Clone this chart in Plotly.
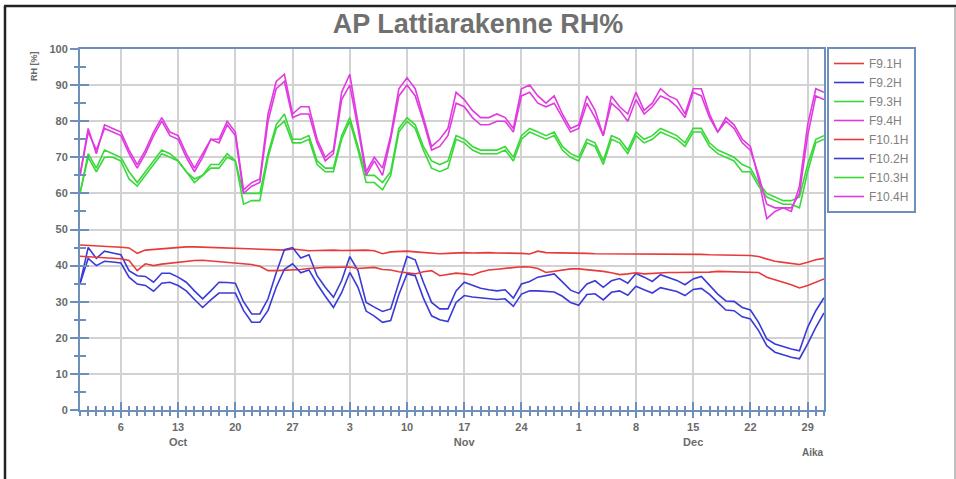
import pandas as pd
import plotly.graph_objects as go

# ---------------- data ----------------
dates = pd.date_range("2014-10-01", "2014-12-31", freq="D")

f9_1 = [45.7, 45.6, 45.5, 45.5, 45.3, 45.1, 44.9, 43.4, 44.3, 44.5,
        44.7, 44.9, 45.1, 45.2, 45.2, 45.1, 45.1, 45.0, 45.0, 44.9,
        44.8, 44.7, 44.6, 44.5, 44.3, 44.3, 44.6, 44.4, 44.1, 44.2,
        44.3, 44.3, 44.2, 44.3, 44.4, 44.3, 44.1, 43.3, 43.8, 44.0,
        44.0, 43.8, 43.6, 43.5, 43.3, 43.4, 43.6, 43.6, 43.5, 43.6,
        43.6, 43.5, 43.5, 43.4, 43.4, 43.2, 44.0, 43.6, 43.6, 43.5,
        43.5, 43.4, 43.4, 43.3, 43.3, 43.2, 43.1, 43.1, 43.2, 43.1,
        43.1, 43.2, 43.2, 43.2, 43.2, 43.1, 43.1, 43.0, 43.0, 43.0,
        42.9, 42.9, 42.8, 42.5, 41.8, 41.2, 40.9, 40.6, 40.3, 40.9,
        41.6, 42.0]

f9_2 = [35.0, 45.0, 42.0, 44.0, 43.5, 43.0, 38.6, 37.2, 37.0, 35.4,
        37.9, 37.9, 36.8, 35.4, 33.0, 30.8, 33.0, 35.4, 35.3, 35.1,
        30.0, 26.6, 26.6, 30.8, 38.0, 44.4, 45.0, 42.1, 43.0, 37.2,
        34.0, 31.2, 35.8, 42.5, 38.6, 29.8, 28.5, 27.3, 28.0, 35.0,
        42.5, 41.6, 35.4, 29.8, 28.0, 28.0, 33.0, 35.4, 34.5, 33.7,
        33.3, 33.0, 33.3, 31.0, 34.9, 35.6, 36.8, 37.2, 37.7, 35.5,
        33.2, 32.3, 34.9, 35.8, 34.0, 35.8, 36.4, 35.1, 37.8, 36.8,
        35.6, 37.5, 36.8, 35.9, 34.7, 36.3, 37.0, 34.4, 32.1, 30.2,
        30.1, 28.4, 27.7, 24.3, 19.7, 18.3, 17.5, 16.9, 16.4, 22.9,
        27.5, 31.1]

f9_3 = [60, 71, 67, 72, 71, 70, 66, 63, 66, 69,
        72, 71, 69, 66, 64, 65, 68, 68, 71, 69,
        60, 60, 60, 71, 79, 82, 75, 75, 76, 69,
        67, 67, 76, 81, 73, 65, 65, 63, 66, 78,
        81, 79, 73, 69, 68, 69, 76, 75, 73, 72,
        72, 72, 73, 70, 76, 78, 77, 76, 77, 73,
        71, 70, 75, 74, 69, 76, 75, 72, 77, 75,
        76, 78, 77, 76, 74, 78, 78, 74, 72, 71,
        70, 68, 67, 63, 60, 59, 58, 58, 59, 68,
        75, 76]

f9_4 = [65, 78, 71, 79, 78, 77, 72, 68, 72, 77,
        81, 77, 76, 71, 67, 71, 75, 75, 80, 77,
        61, 63, 64, 82, 91, 93, 82, 84, 84, 75,
        70, 72, 88, 93, 80, 66, 70, 67, 76, 89,
        92, 89, 81, 73, 75, 78, 88, 86, 83, 81,
        81, 82, 81, 78, 89, 90, 87, 85, 87, 82,
        78, 79, 87, 83, 76, 87, 84, 82, 88, 83,
        85, 89, 87, 86, 82, 89, 89, 82, 77, 81,
        79, 75, 73, 64, 53, 55, 56, 55, 62, 79,
        89, 88]

f10_1 = [42.6, 42.5, 42.4, 42.3, 42.2, 41.9, 41.4, 38.6, 40.5, 40.0,
         40.4, 40.7, 41.0, 41.2, 41.4, 41.5, 41.3, 41.0, 40.8, 40.7,
         40.5, 40.3, 39.8, 38.6, 38.6, 38.7, 38.6, 38.9, 39.2, 39.4,
         39.5, 39.5, 39.5, 39.6, 39.2, 39.3, 39.5, 38.9, 38.8, 38.3,
         38.1, 37.7, 38.3, 38.6, 37.2, 37.6, 37.9, 37.7, 37.4, 38.2,
         38.8, 39.0, 39.2, 39.4, 39.7, 39.6, 39.2, 38.1, 38.4, 38.8,
         39.1, 39.1, 38.9, 38.6, 38.4, 38.0, 37.5, 37.7, 38.0, 37.7,
         37.9, 38.0, 38.1, 38.1, 38.1, 38.2, 38.1, 38.2, 38.4, 38.3,
         38.2, 38.2, 38.2, 38.1, 36.8, 36.0, 35.4, 34.7, 33.8, 34.5,
         35.5, 36.3]

f10_2 = [35.0, 42.0, 40.0, 41.2, 41.0, 40.7, 36.8, 34.9, 34.5, 32.9,
         35.1, 35.4, 34.5, 33.0, 30.6, 28.4, 30.5, 32.4, 32.4, 32.4,
         27.6, 24.3, 24.3, 27.6, 34.0, 39.0, 40.5, 38.0, 38.8, 34.9,
         31.5, 28.4, 32.5, 38.1, 34.0, 27.4, 26.0, 24.3, 24.8, 32.0,
         37.7, 37.2, 31.0, 26.1, 25.0, 24.5, 29.8, 31.7, 31.3, 31.0,
         30.8, 30.6, 30.8, 28.7, 32.1, 33.0, 33.0, 32.8, 32.7, 31.5,
         29.8, 29.0, 32.0, 32.2, 30.5, 32.6, 33.0, 31.8, 34.3, 33.3,
         32.4, 33.9, 33.4, 32.8, 31.7, 33.4, 33.7, 32.0, 29.8, 27.7,
         27.5, 25.8, 25.2, 22.0, 17.8, 16.0, 15.3, 14.6, 14.2, 18.3,
         22.9, 26.9]

f10_3 = [60, 70, 66, 70, 70, 69, 64, 62, 65, 68,
         71, 70, 69, 66, 63, 65, 67, 67, 70, 69,
         57, 58, 58, 70, 78, 80, 74, 74, 75, 68,
         66, 66, 75, 80, 72, 63, 63, 61, 65, 77,
         80, 78, 72, 67, 66, 67, 75, 74, 72, 71,
         71, 71, 72, 69, 75, 77, 76, 75, 76, 72,
         70, 69, 74, 73, 68, 75, 74, 71, 76, 74,
         75, 77, 76, 75, 73, 77, 77, 73, 71, 70,
         69, 66, 66, 62, 59, 58, 57, 57, 56, 66,
         74, 75]

f10_4 = [65, 77, 72, 78, 77, 76, 71, 67, 71, 76,
         80, 76, 75, 70, 66, 70, 75, 74, 79, 76,
         60, 62, 63, 80, 89, 91, 81, 82, 82, 74,
         69, 71, 86, 90, 78, 65, 69, 65, 75, 87,
         90, 87, 80, 72, 73, 76, 85, 84, 81, 79,
         79, 80, 80, 77, 87, 88, 85, 84, 85, 81,
         77, 78, 85, 81, 76, 85, 83, 80, 86, 82,
         84, 87, 86, 84, 81, 88, 87, 81, 77, 80,
         78, 74, 72, 65, 57, 56, 56, 56, 60, 76,
         87, 86]

series_names = ["F9.1H", "F9.2H", "F9.3H", "F9.4H",
                "F10.1H", "F10.2H", "F10.3H", "F10.4H"]
series_values = [f9_1, f9_2, f9_3, f9_4, f10_1, f10_2, f10_3, f10_4]

tick_dates = ["2014-10-06", "2014-10-13", "2014-10-20", "2014-10-27",
              "2014-11-03", "2014-11-10", "2014-11-17", "2014-11-24",
              "2014-12-01", "2014-12-08", "2014-12-15", "2014-12-22",
              "2014-12-29"]
tick_labels = ["6", "13<br>Oct", "20", "27", "3", "10", "17<br>Nov", "24",
               "1", "8", "15<br>Dec", "22", "29"]

# ---------------- style ----------------
W, H = 956, 479
ML, MR, MT, MB = 80, 132, 49, 69
PW, PH = W - ML - MR, H - MT - MB
AX = "#6f8fbb"
GRID = "#d2d2d2"
TXT = "#6a6a6a"
FONT = "Liberation Sans, Arial, sans-serif"
colors = ["#e83a3a", "#3a3ad8", "#3ad83a", "#e03ae0",
          "#e83a3a", "#3a3ad8", "#3ad83a", "#e03ae0"]


def px_x(p):
    return (p - ML) / PW


def px_y(p):
    return (H - MB - p) / PH


fig = go.Figure()
for name, vals, col in zip(series_names, series_values, colors):
    fig.add_trace(go.Scatter(x=dates, y=vals, name=name, mode="lines",
                             line=dict(color=col, width=1.6)))

# invisible helper trace so the overlay axes (crossing ticks) are drawn
fig.add_trace(go.Scatter(x=dates, y=f9_1, xaxis="x2", yaxis="y2",
                         mode="lines", line=dict(width=0), opacity=0,
                         showlegend=False, hoverinfo="skip"))

xr = ["2014-10-01", "2014-12-31"]
yr = [0, 100]

fig.update_layout(
    width=W, height=H,
    margin=dict(l=ML, r=MR, t=MT, b=MB),
    paper_bgcolor="white", plot_bgcolor="white",
    font=dict(family=FONT, color=TXT),
    title=dict(text="AP Lattiarakenne RH%", x=0.5, xanchor="center",
               y=1 - 24 / H, yanchor="middle",
               font=dict(family=FONT, size=27, color="#707070", weight="bold")),
    showlegend=True,
    legend=dict(x=px_x(827), y=px_y(47), xanchor="left", yanchor="top",
                bordercolor=AX, borderwidth=2, bgcolor="white",
                font=dict(family=FONT, size=12, color="#808080"),
                tracegroupgap=0, itemwidth=30),
    xaxis=dict(
        type="date", range=xr, tickmode="array", tickvals=tick_dates,
        ticktext=tick_labels, showgrid=True, gridcolor=GRID, gridwidth=2,
        showline=True, linecolor=AX, linewidth=2, mirror=True,
        ticks="outside", ticklen=6, tickwidth=2, tickcolor=AX,
        tickfont=dict(family=FONT, size=11, color=TXT, weight="bold"),
        minor=dict(tickmode="linear", tick0="2014-10-01", dtick=86400000,
                   ticks="outside", ticklen=4, tickwidth=2, tickcolor=AX,
                   showgrid=False),
        zeroline=False,
    ),
    xaxis2=dict(
        type="date", range=xr, overlaying="x", anchor="y2", side="bottom",
        tickmode="array", tickvals=tick_dates, showticklabels=False,
        showgrid=False, showline=False, zeroline=False,
        ticks="inside", ticklen=8, tickwidth=2, tickcolor=AX,
        minor=dict(tickmode="linear", tick0="2014-10-01", dtick=86400000,
                   ticks="inside", ticklen=4, tickwidth=2, tickcolor=AX,
                   showgrid=False),
    ),
    yaxis=dict(
        range=yr, dtick=10, tick0=0, showgrid=True, gridcolor=GRID,
        gridwidth=2, showline=True, linecolor=AX, linewidth=2, mirror=True,
        ticks="outside", ticklen=8, tickwidth=2, tickcolor=AX,
        tickfont=dict(family=FONT, size=11, color=TXT, weight="bold"),
        minor=dict(dtick=5, ticks="outside", ticklen=4, tickwidth=2,
                   tickcolor=AX, showgrid=False),
        zeroline=False,
    ),
    yaxis2=dict(
        range=yr, dtick=10, tick0=0, overlaying="y", anchor="x2", side="left",
        showticklabels=False, showgrid=False, showline=False, zeroline=False,
        ticks="inside", ticklen=9, tickwidth=2, tickcolor=AX,
        minor=dict(dtick=5, ticks="inside", ticklen=6, tickwidth=2,
                   tickcolor=AX, showgrid=False),
    ),
)

# axis titles as annotations (positions as in the original)
fig.add_annotation(text="RH [%]", textangle=-90, xref="paper", yref="paper",
                   x=px_x(34), y=px_y(66), xanchor="center", yanchor="middle",
                   showarrow=False,
                   font=dict(family=FONT, size=9, color=TXT, weight="bold"))
fig.add_annotation(text="Aika", xref="paper", yref="paper",
                   x=px_x(813), y=px_y(452), xanchor="center", yanchor="middle",
                   showarrow=False,
                   font=dict(family=FONT, size=10, color=TXT, weight="bold"))

# outer frame of the picture
fig.add_shape(type="line", xref="paper", yref="paper",
              x0=px_x(4), x1=px_x(956), y0=px_y(6), y1=px_y(6),
              line=dict(color="#222222", width=2.5), layer="above")
fig.add_shape(type="line", xref="paper", yref="paper",
              x0=px_x(5), x1=px_x(5), y0=px_y(6), y1=px_y(480),
              line=dict(color="#222222", width=2.5), layer="above")
fig.add_shape(type="line", xref="paper", yref="paper",
              x0=px_x(955), x1=px_x(955), y0=px_y(7), y1=px_y(480),
              line=dict(color="#aaaaaa", width=1.5), layer="above")

fig.write_html("out.html")
